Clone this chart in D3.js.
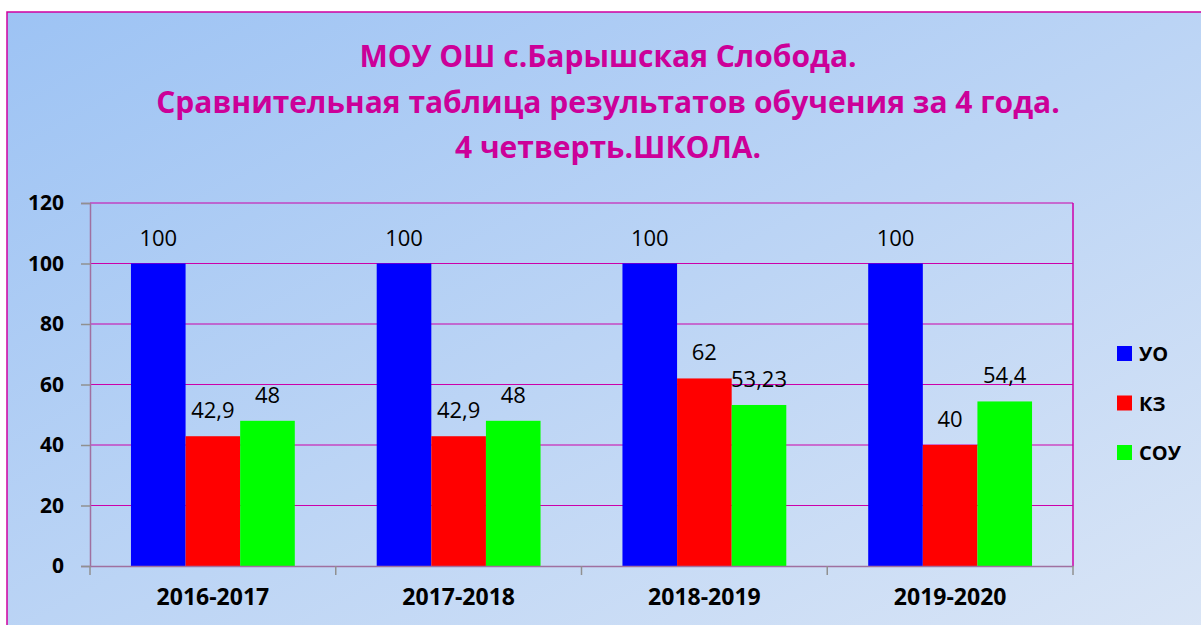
<!DOCTYPE html>
<html>
<head>
<meta charset="utf-8">
<script src="https://cdn.jsdelivr.net/npm/d3@7"></script>
<style>
  body { margin: 0; background: #fff; }
  svg { display: block; }
</style>
</head>
<body>
<div id="chart"></div>
<script>
// data
const years = ["2016-2017", "2017-2018", "2018-2019", "2019-2020"];
const seriesNames = ["УО", "КЗ", "СОУ"];
const uoValues = [100, 100, 100, 100];
const kzValues = [42.9, 42.9, 62, 40];
const souValues = [48, 48, 53.23, 54.4];
const seriesColors = ["#0000ff", "#ff0000", "#00ff00"];
const yTicks = [0, 20, 40, 60, 80, 100, 120];
const titleLines = [
    "МОУ ОШ с.Барышская Слобода.",
    "Сравнительная таблица результатов обучения за 4 года.",
    "4 четверть.ШКОЛА."
];

const allSeries = [uoValues, kzValues, souValues];

let width = 1201, height = 625;
let margin = ({ top: 203, right: 128, bottom: 59, left: 90 });

let svg = d3.select("#chart")
    .append("svg")
    .attr("width", width)
    .attr("height", height)
    .attr("font-family", "'Open Sans', 'Noto Sans', sans-serif");

// background gradient
let defs = svg.append("defs");
let grad = defs.append("linearGradient")
    .attr("id", "bg")
    .attr("x1", "0%").attr("y1", "0%")
    .attr("x2", "100%").attr("y2", "100%");
grad.append("stop").attr("offset", "0%").attr("stop-color", "#9dc3f4");
grad.append("stop").attr("offset", "100%").attr("stop-color", "#dbe6f6");

svg.append("rect")
    .attr("x", 7).attr("y", 12)
    .attr("width", width + 20).attr("height", height + 20)
    .attr("fill", "url(#bg)")
    .attr("stroke", "#d000a0")
    .attr("stroke-width", 1.5);

// title
svg.append("g")
    .attr("text-anchor", "middle")
    .attr("fill", "#cc0099")
    .attr("font-weight", "bold")
    .attr("font-size", 30)
    .selectAll("text")
    .data(titleLines)
    .join("text")
    .attr("x", 608)
    .attr("y", (d, i) => 67 + i * 45.5)
    .text(d => d);

let x = d3.scaleBand()
    .domain(years)
    .range([margin.left, width - margin.right]);

let x1 = d3.scaleBand()
    .domain(seriesNames)
    .range([0, x.bandwidth()])
    .paddingOuter(0.75);

let y = d3.scaleLinear()
    .domain([0, 120])
    .range([height - margin.bottom, margin.top]);

// gridlines
svg.append("g")
    .selectAll("line")
    .data(yTicks.filter(d => d > 0))
    .join("line")
    .attr("x1", margin.left)
    .attr("x2", width - margin.right)
    .attr("y1", d => y(d))
    .attr("y2", d => y(d))
    .attr("stroke", "#cc00aa")
    .attr("stroke-width", 1.2);

// right border of plot
svg.append("line")
    .attr("x1", width - margin.right).attr("x2", width - margin.right)
    .attr("y1", y(120)).attr("y2", y(0))
    .attr("stroke", "#cc00aa")
    .attr("stroke-width", 1.5);

// bars
let groups = svg.append("g")
    .selectAll("g")
    .data(years)
    .join("g")
    .attr("transform", d => `translate(${x(d)},0)`);

groups.selectAll("rect")
    .data((d, i) => seriesNames.map((s, j) => ({ s, v: allSeries[j][i], c: seriesColors[j] })))
    .join("rect")
    .attr("x", d => x1(d.s))
    .attr("width", x1.bandwidth())
    .attr("y", d => y(d.v))
    .attr("height", d => y(0) - y(d.v))
    .attr("fill", d => d.c);

let fmt = v => String(v).replace(".", ",");

groups.selectAll("text")
    .data((d, i) => seriesNames.map((s, j) => ({ s, v: allSeries[j][i] })))
    .join("text")
    .attr("x", d => x1(d.s) + x1.bandwidth() / 2)
    .attr("y", d => y(d.v) - 18)
    .attr("text-anchor", "middle")
    .attr("font-size", 22)
    .attr("fill", "#000")
    .text(d => fmt(d.v));

// y axis
let yAxis = svg.append("g")
    .attr("transform", `translate(${margin.left},0)`)
    .call(d3.axisLeft(y).tickValues(yTicks).tickSize(9).tickPadding(17));
yAxis.select(".domain").attr("stroke", "#a070a0").attr("stroke-width", 1.5);
yAxis.selectAll(".tick line").attr("stroke", "#909090").attr("stroke-width", 1.5);
yAxis.selectAll(".tick text")
    .attr("font-size", 21)
    .attr("font-weight", "bold")
    .attr("font-family", "'Open Sans', sans-serif")
    .attr("fill", "#000");

// x axis
let xAxis = svg.append("g")
    .attr("transform", `translate(0,${y(0)})`)
    .call(d3.axisBottom(x).tickSize(0).tickPadding(23));
xAxis.select(".domain").attr("stroke", "#a070a0").attr("stroke-width", 1.5);
xAxis.selectAll(".tick text")
    .attr("font-size", 23)
    .attr("font-weight", "bold")
    .attr("font-family", "'Open Sans', sans-serif")
    .attr("fill", "#000");

// category separator ticks
svg.append("g")
    .selectAll("line")
    .data(years.map(d => x(d)).concat([x.range()[1]]))
    .join("line")
    .attr("x1", d => d).attr("x2", d => d)
    .attr("y1", y(0)).attr("y2", y(0) + 9)
    .attr("stroke", "#909090")
    .attr("stroke-width", 1.5);

// legend
let legend = svg.append("g")
    .attr("transform", "translate(1117,346)")
    .selectAll("g")
    .data(seriesNames)
    .join("g")
    .attr("transform", (d, i) => `translate(0,${i * 49.5})`);

legend.append("rect")
    .attr("width", 15).attr("height", 15)
    .attr("fill", (d, i) => seriesColors[i]);

legend.append("text")
    .attr("x", 22)
    .attr("y", 8)
    .attr("dy", "0.35em")
    .attr("font-size", 20)
    .attr("font-weight", "bold")
    .text(d => d);
</script>
</body>
</html>
